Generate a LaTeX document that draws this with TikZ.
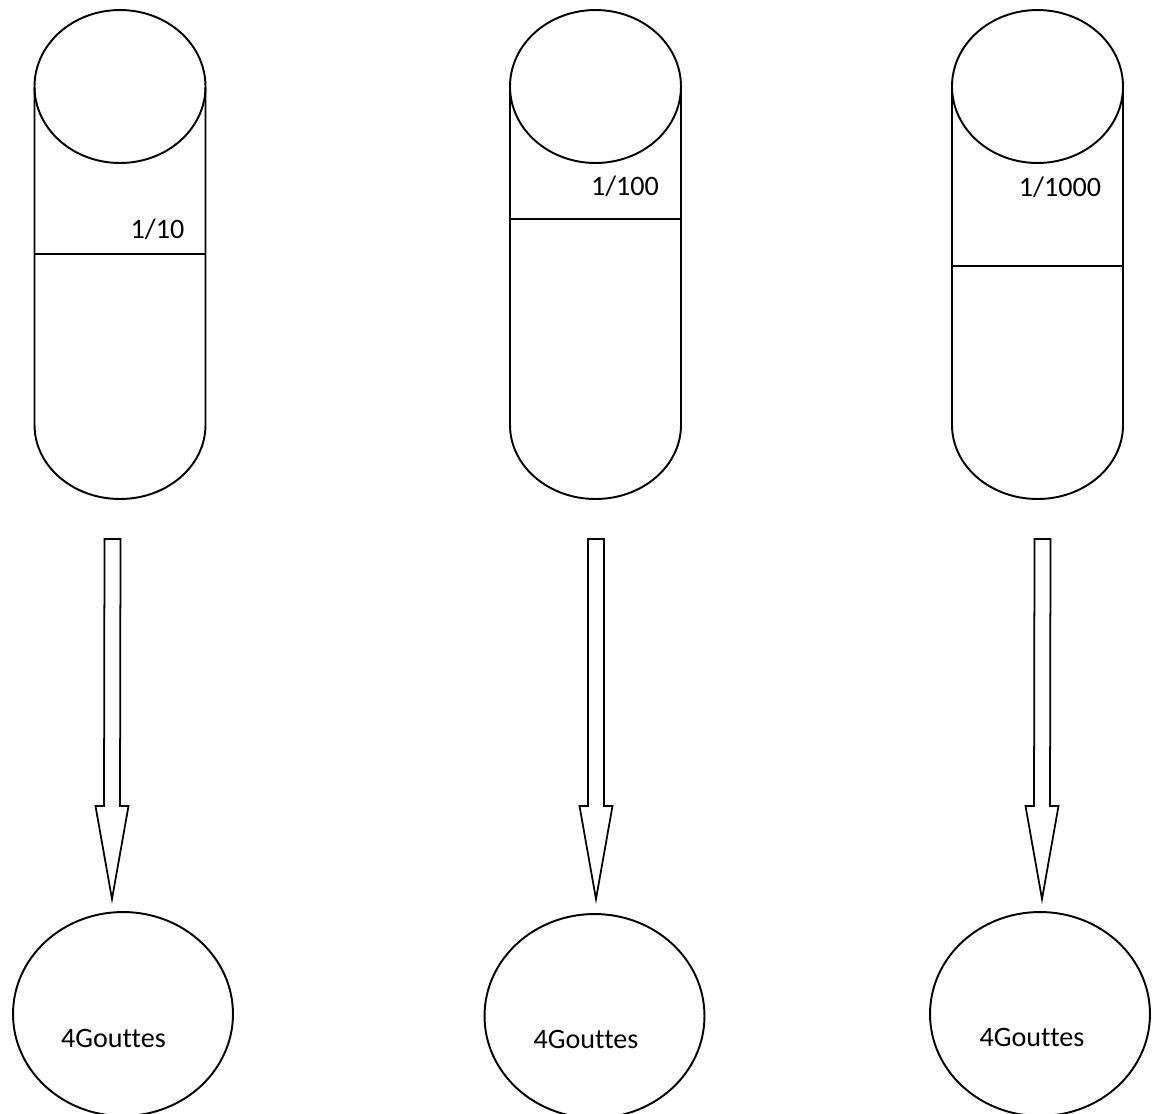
\documentclass[tikz,border=0pt]{standalone}
\usepackage{fontspec}
\setmainfont[Ligatures=NoCommon]{Carlito}
\usetikzlibrary{calc,shapes.geometric}

% block arrow from top point #1 down to tip #2
\newcommand{\droparrow}[2]{%
  \draw[blockarrow] ($(#1)+(-8,0)$) -- ($(#1)+(8,0)$) -- ($(#2)+(8,-93)$)
    -- ($(#2)+(16.5,-93)$) -- (#2) -- ($(#2)+(-16.5,-93)$)
    -- ($(#2)+(-8,-93)$) -- cycle;}

\begin{document}
\begin{tikzpicture}[x=0.02cm,y=-0.02cm,line width=1.1pt,
    font=\fontsize{16pt}{19pt}\selectfont,
    drop/.style={ellipse,draw,minimum width=4.4cm,minimum height=4.08cm,inner sep=0pt},
    lbl/.style={anchor=base,inner sep=0pt},
    blockarrow/.style={line width=1pt,line join=miter}]
  \useasboundingbox (0,0) rectangle (1152,1113);

  % tubes: centre x / half width / divider y
  \foreach \xc/\rx/\yd in {120/85.5/254, 595.5/85.5/219, 1037.5/85.5/266}{
    \draw (\xc,86.5) ellipse [x radius=\rx*0.02cm, y radius=1.53cm];
    \draw (\xc-\rx,87) -- (\xc-\rx,425)
      arc[start angle=180,end angle=360,x radius=\rx*0.02cm,y radius=1.48cm]
      -- (\xc+\rx,87);
    \draw (\xc-\rx,\yd) -- (\xc+\rx,\yd);
  }

  \node[lbl] (c1) at (157.5,238) {1/10};
  \node[lbl] (c2) at (625,195) {1/100};
  \node[lbl] (c3) at (1060,196) {1/1000};

  % drops
  \node[drop] (d1) at (123,1014) {};
  \node[drop] (d2) at (594.5,1016) {};
  \node[drop] (d3) at (1040,1014) {};
  \node[lbl] (g1) at ($(d1.center)+(-9.5,33)$) {4Gouttes};
  \node[lbl] (g2) at ($(d2.center)+(-8.5,32)$) {4Gouttes};
  \node[lbl] (g3) at ($(d3.center)+(-8,32)$) {4Gouttes};

  \coordinate (s1) at (112.5,539);
  \coordinate (e1) at (112,899);
  \coordinate (s2) at (596,539);
  \coordinate (e2) at (596,899);
  \coordinate (s3) at (1042.5,539);
  \coordinate (e3) at (1042,899);
  \droparrow{s1}{e1}
  \droparrow{s2}{e2}
  \droparrow{s3}{e3}
\end{tikzpicture}
\end{document}
